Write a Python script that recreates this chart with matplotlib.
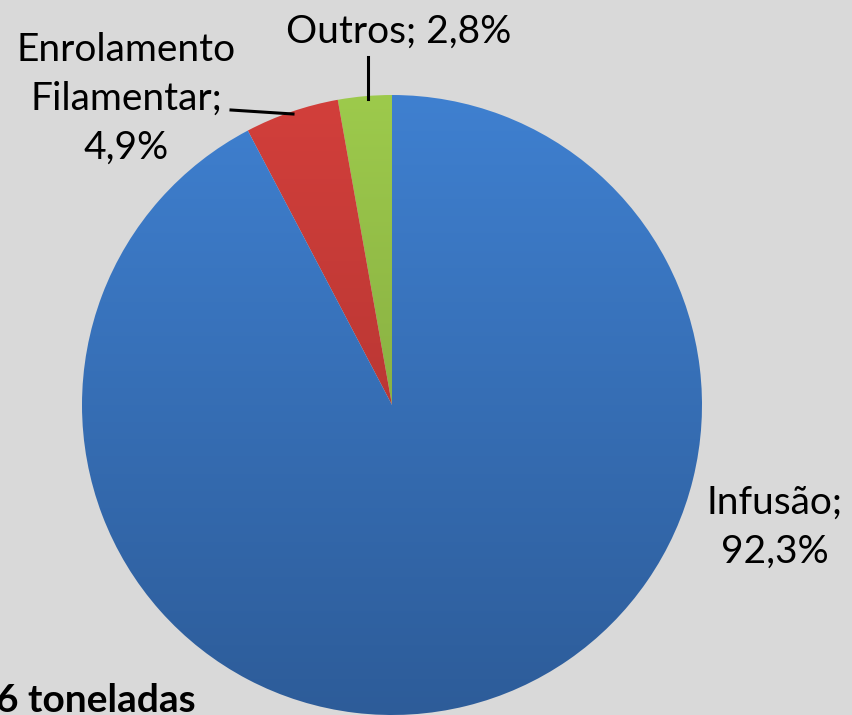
import numpy as np
import matplotlib.pyplot as plt
from matplotlib.colors import LinearSegmentedColormap

# data
labels = ["Outros", "Enrolamento\nFilamentar", "Infusão"]
shares = [2.8, 4.9, 92.3]
label_texts = ["Outros; 2,8%", "Enrolamento\nFilamentar;\n4,9%", "Infusão;\n92,3%"]
top_colors = ["#9dca4c", "#d23f3b", "#3f80d0"]
bottom_colors = ["#77993a", "#a5302d", "#2d5c99"]
footer = "6 toneladas"

W, H = 852, 715
plt.rcParams['font.family'] = ['Lato', 'DejaVu Sans']

fig = plt.figure(figsize=(W / 100, H / 100), dpi=100)
fig.patch.set_facecolor("#d9d9d9")
ax = fig.add_axes([0, 0, 1, 1])

cx, cy, r = 392, H - 405, 310
wedges, _ = ax.pie(shares, startangle=90, counterclock=True, radius=r,
                   center=(cx, cy), frame=True,
                   wedgeprops=dict(linewidth=0, edgecolor='none'))

# vertical gradient inside each slice
grad = np.linspace(1, 0, 256).reshape(-1, 1)
for w, c1, c2 in zip(wedges, top_colors, bottom_colors):
    w.set_facecolor('none')
    cmap = LinearSegmentedColormap.from_list("g", [c2, c1])
    im = ax.imshow(grad, cmap=cmap, aspect='auto',
                   extent=(cx - r, cx + r, cy - r, cy + r), zorder=1,
                   interpolation='bilinear', vmin=0, vmax=1)
    im.set_clip_path(w)

ax.set_xlim(0, W)
ax.set_ylim(0, H)
ax.set_aspect('equal')
ax.axis('off')

fs = 28
ax.text(399, H - 32, label_texts[0], ha='center', va='center', fontsize=fs)
ax.text(126, H - 99, label_texts[1], ha='center', va='center', fontsize=fs,
        linespacing=1.45)
ax.text(775, H - 527, label_texts[2], ha='center', va='center', fontsize=fs,
        linespacing=1.45)

# leader lines
ax.plot([368, 368], [H - 57, H - 99], color='black', lw=2.2, zorder=3)
ax.plot([231, 293], [H - 110, H - 114], color='black', lw=2.2, zorder=3)

ax.text(196, H - 712, footer, ha='right', va='baseline', fontsize=fs,
        fontweight='bold')

fig.savefig("out.png", dpi=100, facecolor=fig.get_facecolor())
